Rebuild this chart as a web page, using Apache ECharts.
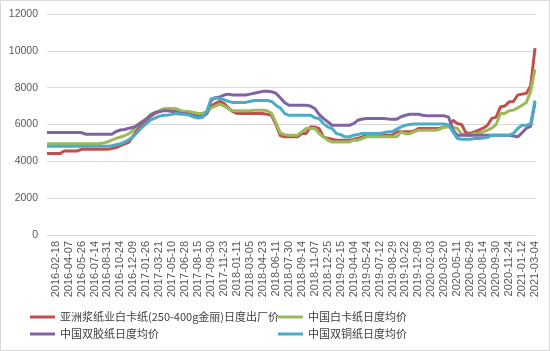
<!DOCTYPE html>
<html>
<head>
<meta charset="utf-8">
<script src="https://cdn.jsdelivr.net/npm/echarts@6/dist/echarts.min.js"></script>
<style>
html,body{margin:0;padding:0;background:#fff;}
#chart{width:550px;height:351px;}
</style>
</head>
<body>
<div id="chart"></div>
<script>
// Tick labels shown on the category axis (every 3rd sample, starting at sample 2)
const tickLabels = ['2016-02-18','2016-04-07','2016-05-26','2016-07-14','2016-08-31','2016-10-24','2016-12-09',
  '2017-01-26','2017-03-21','2017-05-10','2017-06-28','2017-08-15','2017-09-30','2017-11-23',
  '2018-01-11','2018-03-05','2018-04-23','2018-06-11','2018-07-30','2018-09-14','2018-11-07','2018-12-25',
  '2019-02-15','2019-04-04','2019-05-24','2019-07-12','2019-08-29','2019-10-22','2019-12-09',
  '2020-02-03','2020-03-20','2020-05-11','2020-06-29','2020-08-14','2020-09-30','2020-11-24',
  '2021-01-12','2021-03-04'];

const seriesNames = ['亚洲浆纸业白卡纸(250-400g金丽)日度出厂价','中国白卡纸日度均价','中国双胶纸日度均价','中国双铜纸日度均价'];

const redValues = [
  4420,4420,4420,4420,4560,4560,4560,4560,4650,4650,4650,4650,4650,4650,4650,4700,4750,4850,4950,5050,5400,5750,5950,6200,6450,6600,6700,
  6800,6820,6800,6750,6700,6650,6650,6500,6450,6450,6600,7000,7150,7250,7150,6900,6700,6600,6600,6600,6600,6600,6600,6600,6550,6500,6000,5400,
  5330,5330,5330,5330,5510,5510,5870,5870,5780,5330,5250,5200,5150,5150,5150,5150,5200,5250,5330,5420,5420,5420,5420,5420,5420,5420,5600,5600,5600,5600,5650,5780,5780,5780,5780,5780,5800,5870,5900,6230,6050,6000,5550,5510,5600,5690,5800,5960,6330,6400,6960,7000,7230,7250,7600,7650,7700,8100,10150];

const greenValues = [
  4960,4960,4960,4960,4960,4960,4960,4960,4960,4960,4960,4960,4960,5000,5050,5150,5250,5320,5400,5500,5700,6000,6150,6300,6550,6650,6750,
  6850,6870,6870,6850,6750,6700,6700,6650,6600,6600,6700,6900,7000,7100,7000,6850,6750,6750,6750,6750,6750,6780,6780,6780,6750,6600,6100,5550,
  5450,5420,5420,5420,5600,5780,5780,5780,5510,5330,5150,5050,5050,5050,5050,5050,5150,5150,5240,5330,5330,5330,5330,5330,5330,5330,5330,5600,5500,5500,5600,5690,5690,5690,5690,5690,5750,5870,5870,5850,5780,5500,5420,5420,5510,5510,5600,5690,5800,6000,6600,6600,6750,6780,6900,7050,7200,7800,9000];

const purpleValues = [
  5560,5560,5560,5560,5560,5560,5560,5560,5560,5470,5470,5470,5470,5470,5470,5470,5620,5700,5730,5800,5850,5950,6140,6300,6500,6650,6700,
  6750,6750,6700,6650,6600,6600,6550,6450,6400,6400,6600,7300,7450,7500,7600,7650,7600,7600,7600,7600,7650,7700,7750,7800,7800,7780,7700,7450,
  7200,7050,7050,7050,7050,7050,7000,6870,6550,6330,6150,5960,5960,5960,5960,5960,6050,6230,6300,6330,6330,6330,6330,6330,6300,6290,6290,6420,6500,6560,6560,6560,6500,6470,6470,6470,6470,6470,6400,5700,5420,5420,5420,5420,5420,5420,5420,5420,5420,5420,5420,5420,5420,5380,5330,5550,5800,5900,7200];

const tealValues = [
  4820,4820,4820,4820,4820,4820,4820,4820,4820,4820,4820,4820,4820,4820,4820,4850,4900,4950,5050,5180,5350,5600,5850,6050,6250,6350,6450,
  6500,6520,6550,6600,6550,6550,6500,6400,6350,6400,6700,7400,7450,7400,7350,7250,7200,7200,7200,7200,7250,7300,7300,7300,7300,7250,7050,6900,
  6600,6500,6500,6500,6500,6500,6500,6370,6330,6050,5870,5780,5510,5450,5330,5330,5420,5460,5510,5510,5510,5510,5510,5560,5600,5600,5750,5870,5960,6000,6030,6030,6030,6030,6030,6030,6030,6030,5960,5600,5240,5200,5200,5200,5240,5240,5260,5300,5420,5420,5420,5420,5420,5510,5780,5960,5960,6030,7300];

const colors = ['#C0504D','#9BBB59','#8064A2','#4BACC6'];

// Category names: tick labels at samples 2,5,8,...; other samples get hidden unique names
const categories = [];
for (let i = 0; i < redValues.length; i++) {
  if (i >= 2 && (i - 2) % 3 === 0) categories.push(tickLabels[(i - 2) / 3]);
  else categories.push('s' + i);
}
const isTick = (i) => i >= 2 && (i - 2) % 3 === 0;

const allValues = [redValues, greenValues, purpleValues, tealValues];
const chart = echarts.init(document.getElementById('chart'), null, {renderer: 'canvas'});

const legendPos = [
  {left: 30, top: 310}, {left: 278, top: 310},
  {left: 30, top: 327}, {left: 278, top: 327}
];

chart.setOption({
  animation: false,
  backgroundColor: '#fff',
  graphic: [{
    type: 'rect', silent: true,
    shape: {x: 0.5, y: 0.5, width: 549, height: 350},
    style: {fill: 'none', stroke: '#d9d9d9', lineWidth: 1}
  }],
  grid: {left: 47, right: 15, top: 14, bottom: 116, containLabel: false},
  legend: seriesNames.map((n, k) => ({
    data: [n],
    left: legendPos[k].left, top: legendPos[k].top,
    padding: 0,
    icon: 'rect', itemWidth: 25, itemHeight: 3,
    textStyle: {fontSize: 11, color: '#404040', fontFamily: 'Noto Sans CJK SC', lineHeight: 14, padding: [0, 0, 0, 0]}
  })),
  xAxis: {
    type: 'category',
    data: categories,
    boundaryGap: false,
    axisLine: {show: true, lineStyle: {color: '#d9d9d9', width: 1}},
    axisTick: {show: false},
    axisLabel: {
      interval: (idx) => isTick(idx),
      rotate: 90,
      margin: 6,
      fontSize: 11,
      color: '#595959',
      fontFamily: 'Liberation Sans'
    },
    splitLine: {show: false}
  },
  yAxis: {
    type: 'value',
    min: 0, max: 12000, interval: 2000,
    axisLine: {show: false},
    axisTick: {show: false},
    axisLabel: {fontSize: 10.5, color: '#595959', margin: 9, fontFamily: 'Liberation Sans',
      formatter: (v) => String(v)},
    splitLine: {lineStyle: {color: '#d9d9d9', width: 1}}
  },
  series: seriesNames.map((n, k) => ({
    name: n,
    type: 'line',
    data: allValues[k],
    showSymbol: false,
    symbol: 'none',
    color: colors[k],
    lineStyle: {width: 3, color: colors[k]},
    z: 2 + k
  }))
});
</script>
</body>
</html>
